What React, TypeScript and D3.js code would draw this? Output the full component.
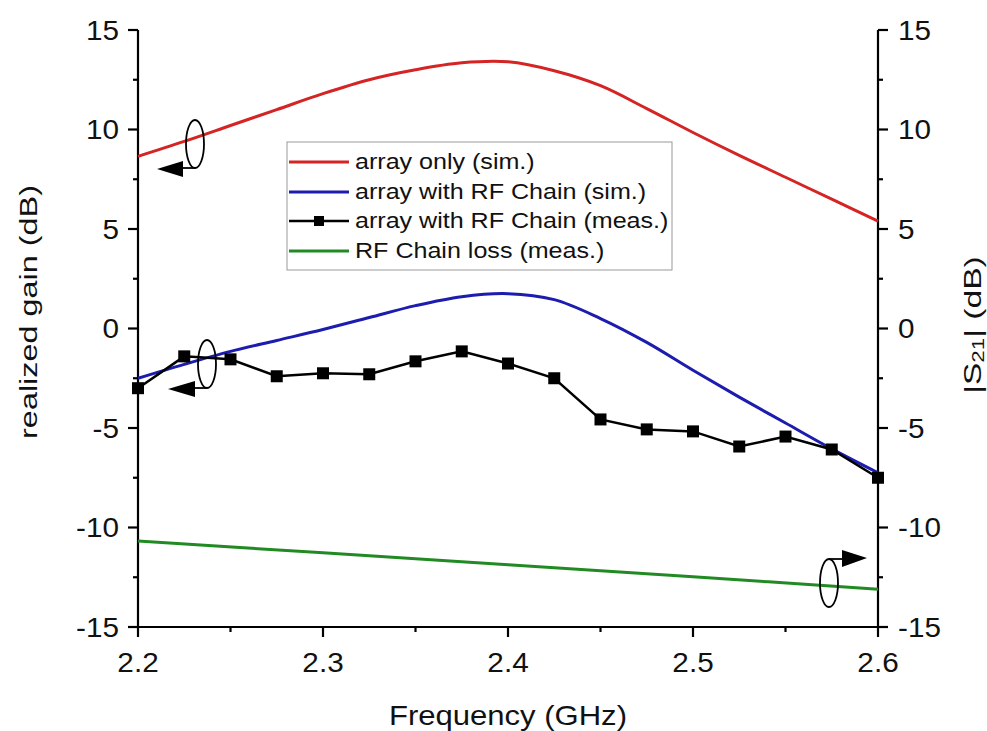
import React from "react";
import * as d3 from "d3";

const freqs = [2.2, 2.225, 2.25, 2.275, 2.3, 2.325, 2.35, 2.375, 2.4, 2.425, 2.45, 2.475, 2.5, 2.525, 2.55, 2.575, 2.6];
const arrayOnlySim = [8.65, 9.4, 10.2, 11.0, 11.8, 12.5, 13.0, 13.35, 13.4, 12.95, 12.2, 11.05, 9.85, 8.7, 7.6, 6.5, 5.4];
const arrayRFSim = [-2.5, -1.8, -1.15, -0.6, -0.05, 0.55, 1.15, 1.6, 1.75, 1.45, 0.5, -0.7, -2.1, -3.45, -4.75, -6.05, -7.25];
const arrayRFMeas = [-3.0, -1.4, -1.55, -2.4, -2.25, -2.3, -1.65, -1.15, -1.76, -2.5, -4.57, -5.07, -5.17, -5.93, -5.43, -6.08, -7.5];
const lossFreqs = [2.2, 2.3, 2.4, 2.5, 2.6];
const rfChainLoss = [-10.68, -11.27, -11.87, -12.48, -13.1];

const xTicks = [2.2, 2.3, 2.4, 2.5, 2.6];
const xMinor = [2.25, 2.35, 2.45, 2.55];
const yTicks = [-15, -10, -5, 0, 5, 10, 15];
const yMinor = [-12.5, -7.5, -2.5, 2.5, 7.5, 12.5];

const legendLabels = ["array only (sim.)", "array with RF Chain (sim.)", "array with RF Chain (meas.)", "RF Chain loss (meas.)"];
const colors = ["#d42424", "#1c1cae", "#000000", "#228a22"];

const W = 987, H = 731;
const L = 138, R = 878, T = 30, B = 627;
const FONT = "'Liberation Sans', Arial, sans-serif";

function Txt(props: { x: number; y: number; sx: number; size: number; anchor?: string; rot?: number; children: React.ReactNode }) {
  const { x, y, sx, size, anchor = "start", rot = 0, children } = props;
  return (
    <g transform={`translate(${x},${y}) rotate(${rot}) scale(${sx},1)`}>
      <text x={0} y={0} textAnchor={anchor as any} dominantBaseline="central" fontSize={size} fill="#111">{children}</text>
    </g>
  );
}

export default function App() {
  const x = d3.scaleLinear().domain([2.2, 2.6]).range([L, R]);
  const y = d3.scaleLinear().domain([-15, 15]).range([B, T]);
  const yR = d3.scaleLinear().domain([-15, 15]).range([B, T]);

  const smooth = d3.line<[number, number]>().x(d => x(d[0])).y(d => y(d[1])).curve(d3.curveCatmullRom.alpha(0.5));
  const straight = d3.line<[number, number]>().x(d => x(d[0])).y(d => y(d[1]));
  const straightR = d3.line<[number, number]>().x(d => x(d[0])).y(d => yR(d[1])).curve(d3.curveCatmullRom.alpha(0.5));

  const red = smooth(freqs.map((f, i) => [f, arrayOnlySim[i]]));
  const blue = smooth(freqs.map((f, i) => [f, arrayRFSim[i]]));
  const black = straight(freqs.map((f, i) => [f, arrayRFMeas[i]]));
  const green = straightR(lossFreqs.map((f, i) => [f, rfChainLoss[i]]));

  const legY = [162, 192, 221, 251];

  const ell = (cx: number, cy: number) => <ellipse cx={cx} cy={cy} rx={9} ry={24} fill="none" stroke="#000" strokeWidth={1.8} />;

  return (
    <svg width={W} height={H} style={{ position: "absolute", left: 0, top: 0, background: "#fff" }} fontFamily={FONT}>
      <rect x={0} y={0} width={W} height={H} fill="#fff" />
      {/* axes */}
      <g stroke="#000" strokeWidth={2.2} fill="none">
        <line x1={L} y1={T} x2={L} y2={B} />
        <line x1={R} y1={T} x2={R} y2={B} />
        <line x1={L} y1={B} x2={R} y2={B} />
        {yTicks.map(t => <line key={"yl" + t} x1={L - 10} x2={L} y1={y(t)} y2={y(t)} />)}
        {yMinor.map(t => <line key={"yml" + t} x1={L - 5} x2={L} y1={y(t)} y2={y(t)} />)}
        {yTicks.map(t => <line key={"yr" + t} x1={R} x2={R + 10} y1={yR(t)} y2={yR(t)} />)}
        {yMinor.map(t => <line key={"ymr" + t} x1={R} x2={R + 5} y1={yR(t)} y2={yR(t)} />)}
        {xTicks.map(t => <line key={"x" + t} x1={x(t)} x2={x(t)} y1={B} y2={B + 10} />)}
        {xMinor.map(t => <line key={"xm" + t} x1={x(t)} x2={x(t)} y1={B} y2={B + 5} />)}
      </g>
      {yTicks.map(t => <Txt key={"tl" + t} x={L - 19} y={y(t)} sx={1.1} size={27} anchor="end">{t}</Txt>)}
      {yTicks.map(t => <Txt key={"tr" + t} x={R + 20} y={yR(t)} sx={1.1} size={27}>{t}</Txt>)}
      {xTicks.map(t => <Txt key={"tx" + t} x={x(t)} y={B + 35} sx={1.1} size={27} anchor="middle">{t.toFixed(1)}</Txt>)}
      <Txt x={(L + R) / 2} y={716} sx={1.15} size={27} anchor="middle">Frequency (GHz)</Txt>
      <Txt x={29} y={312} sx={1.35} size={24} rot={-90} anchor="middle">realized gain (dB)</Txt>
      <Txt x={973} y={325} sx={1.4} size={24} rot={-90} anchor="middle">
        |S<tspan fontSize={16} dy={5}>21</tspan><tspan dy={-5}>| (dB)</tspan>
      </Txt>

      {/* data */}
      <path d={red || ""} fill="none" stroke={colors[0]} strokeWidth={3} />
      <path d={blue || ""} fill="none" stroke={colors[1]} strokeWidth={3} />
      <path d={green || ""} fill="none" stroke={colors[3]} strokeWidth={3} />
      <path d={black || ""} fill="none" stroke={colors[2]} strokeWidth={2.5} />
      {freqs.map((f, i) => (
        <rect key={"m" + i} x={x(f) - 6} y={y(arrayRFMeas[i]) - 6} width={12} height={12} fill="#000" />
      ))}

      {/* annotations */}
      {ell(195, 144)}
      <line x1={195} y1={168} x2={182} y2={168} stroke="#000" strokeWidth={1.8} />
      <path d="M157,169 L183,161 L183,177 Z" fill="#000" />
      {ell(207, 364)}
      <line x1={207} y1={388} x2={194} y2={388} stroke="#000" strokeWidth={1.8} />
      <path d="M168,389 L195,381 L195,397 Z" fill="#000" />
      {ell(829, 583)}
      <line x1={829} y1={559} x2={843} y2={559} stroke="#000" strokeWidth={1.8} />
      <path d="M867,558 L842,550 L842,567 Z" fill="#000" />

      {/* legend */}
      <rect x={287} y={142} width={385} height={128} fill="#fff" stroke="#999" strokeWidth={1} />
      {legendLabels.map((lab, i) => (
        <g key={lab}>
          <line x1={289} x2={349} y1={legY[i]} y2={legY[i]} stroke={colors[i]} strokeWidth={i === 2 ? 2.5 : 3} />
          {i === 2 && <rect x={314} y={legY[i] - 5} width={10} height={10} fill="#000" />}
          <Txt x={355} y={legY[i]} sx={1.14} size={22}>{lab}</Txt>
        </g>
      ))}
    </svg>
  );
}
